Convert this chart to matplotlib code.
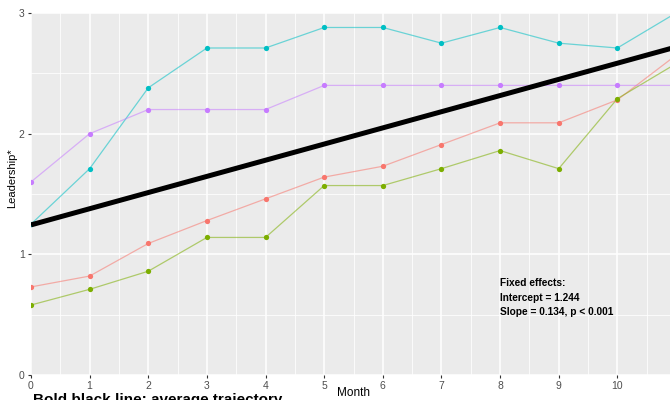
import numpy as np
import matplotlib.pyplot as plt

plt.rcParams['font.family'] = ['Liberation Sans', 'DejaVu Sans']

months = list(range(12))
red = [0.73, 0.82, 1.09, 1.28, 1.46, 1.64, 1.73, 1.91, 2.09, 2.09, 2.28, 2.65]
green = [0.58, 0.71, 0.86, 1.14, 1.14, 1.57, 1.57, 1.71, 1.86, 1.71, 2.29, 2.58]
teal = [1.25, 1.71, 2.38, 2.71, 2.71, 2.88, 2.88, 2.75, 2.88, 2.75, 2.71, 3.0]
purple = [1.60, 2.00, 2.20, 2.20, 2.20, 2.40, 2.40, 2.40, 2.40, 2.40, 2.40, 2.40]
series = [(red, '#F8766D'), (green, '#7CAE00'), (teal, '#00BFC4'), (purple, '#C77CFF')]

intercept = 1.244
slope = 0.134

fig = plt.figure(figsize=(6.7, 4.0), dpi=100)
# panel spans past the right edge, as in the cropped original
ax = fig.add_axes([31 / 670, 25 / 400, (676 - 31) / 670, (375 - 13) / 400])
ax.set_facecolor('#EBEBEB')

for vals, col in series:
    ax.plot(months, vals, '-', color=col, lw=0.9, alpha=0.55, zorder=3)
    ax.plot(months, vals, 'o', color=col, ms=3.8, mec='none', zorder=4)

xs = np.array([0, 11])
ax.plot(xs, intercept + slope * xs, color='black', lw=3.6, zorder=5,
        solid_capstyle='butt')

ax.set_xlim(0, 11)
ax.set_ylim(0, 3)
ax.set_xticks(range(11))
ax.set_xticks(np.arange(0.5, 11, 1), minor=True)
ax.set_yticks([0, 1, 2, 3])
ax.set_yticks([0.5, 1.5, 2.5], minor=True)
ax.grid(which='major', color='white', lw=1.1, zorder=0)
ax.grid(which='minor', color='white', lw=0.55, zorder=0)
ax.set_axisbelow(True)
for s in ax.spines.values():
    s.set_visible(False)
ax.tick_params(which='major', length=2.5, width=0.8, color='#333333',
               labelcolor='#4D4D4D', labelsize=7.5, pad=2)
ax.tick_params(which='minor', length=0)

ax.set_xlabel('Month', fontsize=8.5)
ax.xaxis.set_label_coords((353 - 31) / 645, -(387 - 375) / 362)
ax.set_ylabel('Leadership*', fontsize=8)
ax.yaxis.set_label_coords(-(31 - 17) / 645, (375 - 178) / 362)

ax.text(8.0, 0.76, 'Fixed effects:', fontsize=7.3, fontweight='bold', va='center')
ax.text(8.0, 0.64, 'Intercept = 1.244', fontsize=7.3, fontweight='bold', va='center')
ax.text(8.0, 0.52, 'Slope = 0.134, p < 0.001', fontsize=7.3, fontweight='bold', va='center')

fig.text(33 / 670, 1 - 393 / 400, 'Bold black line: average trajectory',
         fontsize=11, fontweight='bold', va='top', ha='left')

fig.savefig('out.png', dpi=100)
